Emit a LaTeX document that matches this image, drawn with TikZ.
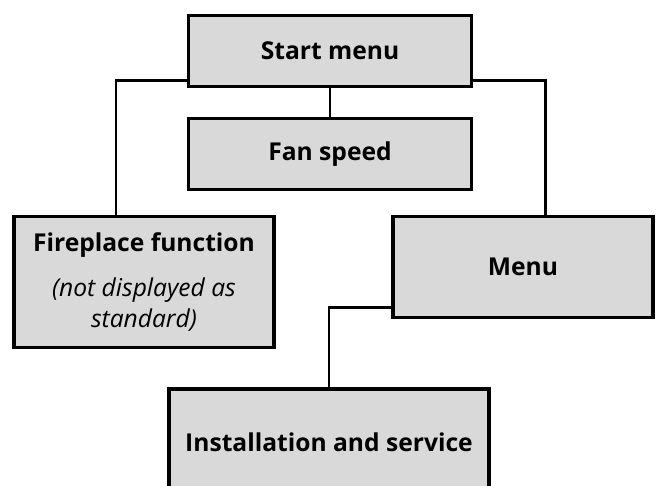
\documentclass[tikz,border=0pt]{standalone}
\usepackage{fontspec}
\setmainfont{Open Sans}
\usepackage{tikz}
\usetikzlibrary{positioning}
\definecolor{boxgray}{RGB}{217,217,217}

\begin{document}
\begin{tikzpicture}[x=0.03cm, y=-0.03cm,
    box/.style={draw, fill=boxgray, line width=2.7pt, inner sep=0pt, align=center,
      font=\fontsize{21}{26.5}\selectfont},
    link/.style={line width=2.1pt}]
    \useasboundingbox (0,0) rectangle (657,486);

    % Menu boxes
    % ---------------------
    \node[box, minimum width=8.49cm, minimum height=2.13cm] (start) at (330,51) {\textbf{Start menu}};
    \node[box, minimum width=8.49cm, minimum height=2.13cm] (fan) at (330,154) {\textbf{Fan speed}};
    \node[box, minimum width=7.8cm, minimum height=3.93cm] (fire) at (144,282)
      {\textbf{Fireplace function}\\[12pt]\textit{(not displayed as}\\\textit{standard)}};
    \node[box, minimum width=7.8cm, minimum height=3.03cm] (menu) at (523,267) {\textbf{Menu}};
    \node[box, minimum width=9.6cm, minimum height=3.18cm] (inst) at (329,442) {\textbf{Installation and service}};

    % Connectors
    % ---------------------
    \draw[link] (start.south) -- (fan.north);
    \draw[link] ([yshift=0.225cm]start.south west) -| ([xshift=-0.84cm]fire.north);
    \draw[link] ([yshift=0.225cm]start.south east) -| ([xshift=0.675cm]menu.north);
    \draw[link] ([yshift=0.35cm]menu.south west) -| (inst.north);
\end{tikzpicture}
\end{document}
